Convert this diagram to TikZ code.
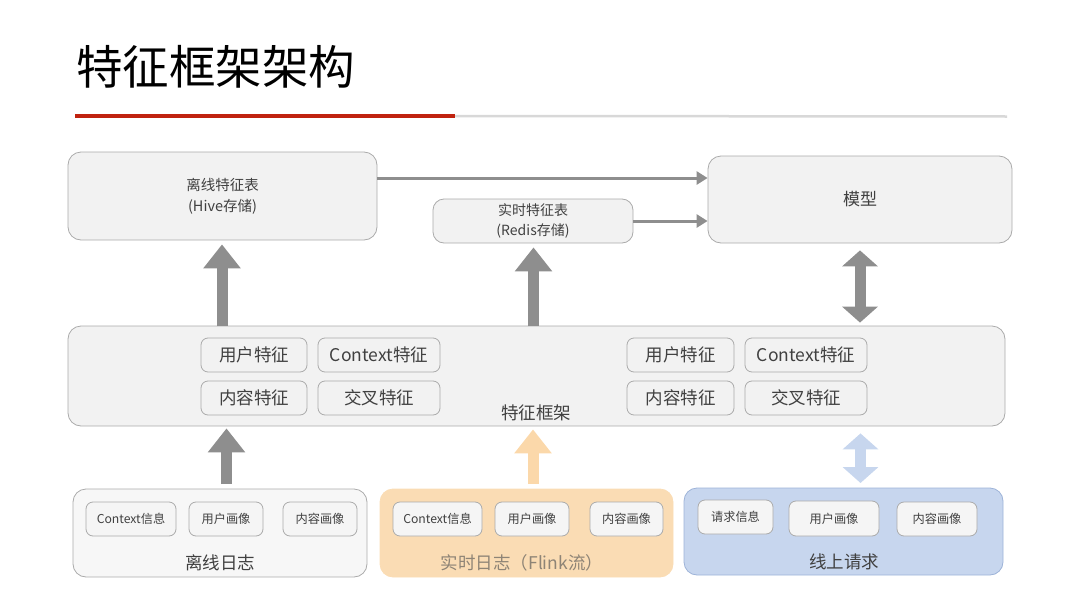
\documentclass[tikz,border=0pt]{standalone}
\usepackage{fontspec}
\setmainfont{Noto Sans CJK SC}
\usetikzlibrary{arrows.meta,calc}
\definecolor{boxfill}{HTML}{F2F2F2}
\definecolor{boxline}{HTML}{ABABAB}
\definecolor{txt}{HTML}{404040}
\definecolor{arrgray}{HTML}{8E8E8E}
\definecolor{orfill}{HTML}{FADCB4}
\definecolor{orarrow}{HTML}{FBD8AA}
\definecolor{blfill}{HTML}{C7D6EE}
\definecolor{blline}{HTML}{9DB3D8}
\definecolor{innerfill}{HTML}{F5F5F5}
\definecolor{titlered}{HTML}{C0220F}
\definecolor{rulegray}{HTML}{D8D8D8}
\definecolor{orlabel}{HTML}{8E8476}
\tikzset{
  base/.style={inner sep=0pt, text=txt, align=center},
  bigbox/.style={base, draw=boxline, fill=boxfill, line width=0.8pt, rounded corners=13pt},
  featbox/.style={base, draw=boxline, fill=boxfill, line width=0.8pt, rounded corners=7pt, minimum height=34pt, font=\fontsize{17.5}{19}\selectfont},
  infobox/.style={base, draw=boxline, fill=innerfill, line width=0.8pt, rounded corners=7pt, minimum height=34pt, font=\fontsize{12.2}{14}\selectfont},
  lbl/.style={base, font=\fontsize{17.5}{19}\selectfont},
  thinarrow/.style={draw=arrgray, line width=3pt, -{Triangle[width=13pt,length=11pt]}},
  bigarrow/.style={draw=arrgray, line width=11pt, -{Triangle[width=36pt,length=24pt]}},
  bigdouble/.style={draw=arrgray, line width=11pt, {Triangle[width=35pt,length=16pt]}-{Triangle[width=35pt,length=16pt]}},
}
\begin{document}
\begin{tikzpicture}[x=1pt,y=-1pt]
\useasboundingbox (0,0) rectangle (1080,608);
% title
\node[anchor=west, inner sep=0pt, font=\fontsize{46.5}{50}\selectfont, text=black] (title) at (76,67) {特征框架架构};
\coordinate (r1) at (75,116);
\coordinate (r2) at (455,116);
\coordinate (r3) at (1007,116.5);
\draw[titlered, line width=4pt] (r1) -- (r2);
\draw[rulegray, line width=2.5pt] (r2) -- (r3);

% top row
\node[bigbox, minimum width=309pt, minimum height=88pt, font=\fontsize{14.5}{21}\selectfont] (hive) at (222.5,196) {离线特征表\\(Hive存储)};
\node[bigbox, minimum width=200pt, minimum height=44pt, rounded corners=11pt, font=\fontsize{14}{20}\selectfont] (rt) at (533,221) {实时特征表\\(Redis存储)};
\node[bigbox, minimum width=304pt, minimum height=87pt, font=\fontsize{17}{19}\selectfont] (model) at (860,199.5) {模型};

\coordinate (h1) at ([yshift=18pt]hive.east);
\draw[thinarrow] (h1) -- (h1 -| model.west);
\draw[thinarrow] (rt.east) -- (rt.east -| model.west);

% feature framework
\node[bigbox, minimum width=937pt, minimum height=100pt] (fw) at (536.5,376) {};
\node[lbl] (fwlabel) at (536,413) {特征框架};
\node[featbox, minimum width=106pt] (u1) at (254,355) {用户特征};
\node[featbox, minimum width=122pt] (c1) at (379,355) {Context特征};
\node[featbox, minimum width=106pt] (n1) at (254,398) {内容特征};
\node[featbox, minimum width=122pt] (x1) at (379,398) {交叉特征};
\node[featbox, minimum width=107pt] (u2) at (680.5,355) {用户特征};
\node[featbox, minimum width=122pt] (c2) at (806,355) {Context特征};
\node[featbox, minimum width=107pt] (n2) at (680.5,398) {内容特征};
\node[featbox, minimum width=122pt] (x2) at (806,398) {交叉特征};

% arrows between framework and top
\coordinate (a1) at (222,326);
\draw[bigarrow, shorten >=4pt] (a1) -- (a1 |- hive.south);
\coordinate (a2) at (533.5,326);
\draw[bigarrow, shorten >=4pt] (a2) -- (a2 |- rt.south);
\draw[bigdouble, shorten >=3pt, shorten <=7pt] (model.south) -- (fw.north -| model.south);

% bottom boxes
\node[bigbox, minimum width=294pt, minimum height=88pt, fill=white!40!boxfill] (off) at (220,533) {};
\node[bigbox, draw=orfill, fill=orfill, minimum width=293pt, minimum height=88pt] (rtl) at (526.5,533) {};
\node[bigbox, draw=blline, fill=blfill, minimum width=319pt, minimum height=87pt] (onl) at (843.5,531.5) {};

\node[lbl] (offlabel) at (220,563) {离线日志};
\node[lbl, text=orlabel] (rtllabel) at (522,563) {实时日志（Flink流）};
\node[lbl] (onllabel) at (844,562) {线上请求};

\node[infobox, minimum width=90pt] (oc) at (131,519) {Context信息};
\node[infobox, minimum width=74pt] (ou) at (226,519) {用户画像};
\node[infobox, minimum width=74pt] (on) at (320,519) {内容画像};
\node[infobox, minimum width=89pt] (rc) at (437.5,519) {Context信息};
\node[infobox, minimum width=74pt] (ru) at (532,519) {用户画像};
\node[infobox, minimum width=73pt] (rn) at (626.5,519) {内容画像};
\node[infobox, minimum width=75pt] (lq) at (735.5,517) {请求信息};
\node[infobox, minimum width=90pt, minimum height=35pt] (lu) at (834,518.5) {用户画像};
\node[infobox, minimum width=80pt] (ln) at (937,519) {内容画像};

% bottom arrows
\coordinate (offtop) at (226.5,489);
\draw[bigarrow, shorten <=5pt, shorten >=2pt] (offtop) -- (offtop |- fw.south);
\coordinate (rtltop) at (533,489);
\draw[bigarrow, draw=orarrow, shorten <=5pt, shorten >=3pt] (rtltop) -- (rtltop |- fw.south);
\coordinate (onltop) at (860.5,488);
\draw[bigdouble, draw=blfill, shorten <=5pt, shorten >=7pt] (onltop) -- (onltop |- fw.south);
\end{tikzpicture}
\end{document}
